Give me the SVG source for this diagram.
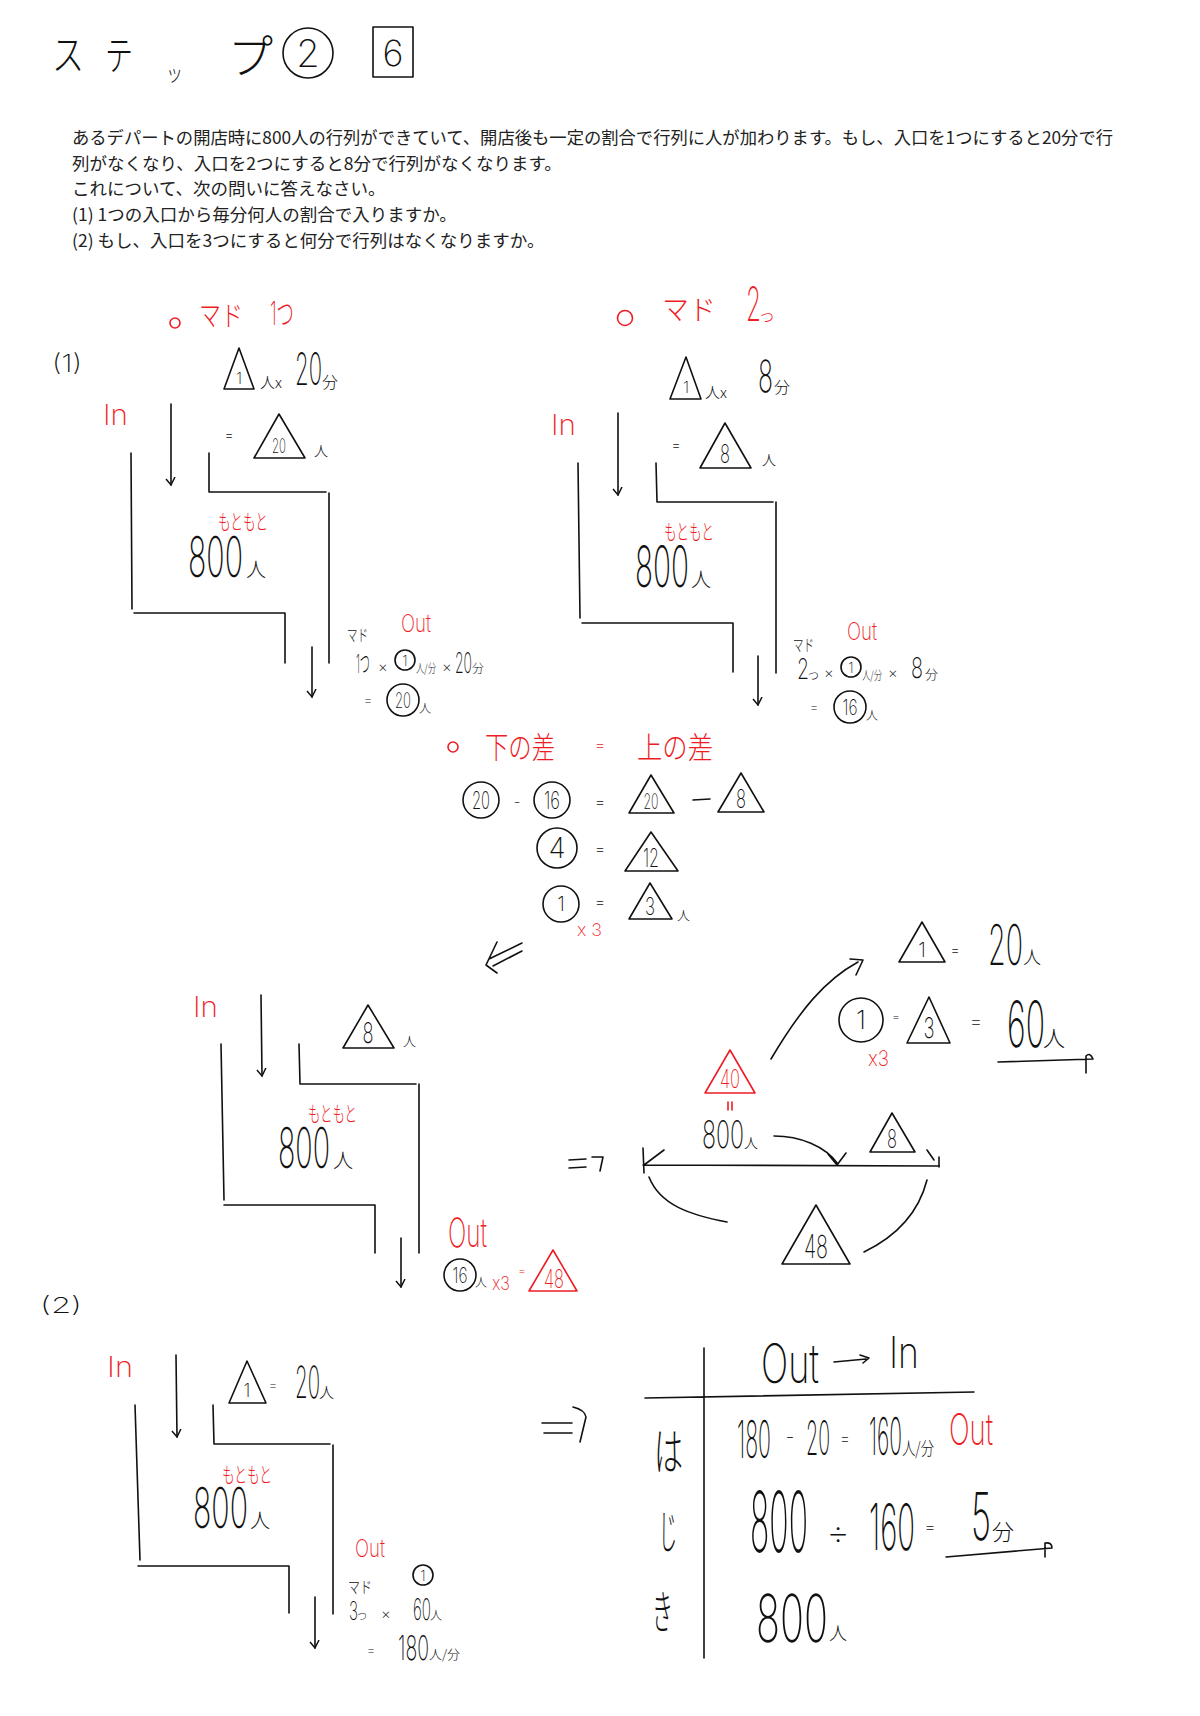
<svg xmlns="http://www.w3.org/2000/svg" width="1200" height="1716" viewBox="0 0 1200 1716">
<style>
.h{font-family:Inter,"Noto Sans CJK JP",sans-serif;font-weight:200;fill:#111}
.j{font-family:"Noto Sans CJK JP",sans-serif;font-weight:300;fill:#111}
.p{font-family:"Noto Sans CJK JP",sans-serif;font-weight:400;fill:#222;font-size:17.5px}
.r{fill:#ee1c24}
.c{text-anchor:middle}
.ln{fill:none;stroke:#111;stroke-width:1.6;stroke-linecap:round;stroke-linejoin:round}
.lr{fill:none;stroke:#ee1c24;stroke-width:1.6;stroke-linecap:round;stroke-linejoin:round}
</style>
<defs>
<marker id="ah" markerUnits="userSpaceOnUse" markerWidth="14" markerHeight="14" viewBox="-8 -7 14 14" refX="0" refY="0" orient="auto">
<path d="M-8,-4 L0,0 L-6,5" fill="none" stroke="#111" stroke-width="1.5"/>
</marker>
</defs>
<rect width="1200" height="1716" fill="#fff"/>

<g id="title">
<text class="j" x="52" y="70" font-size="42" textLength="32" lengthAdjust="spacingAndGlyphs">ス</text>
<text class="j" x="105" y="70" font-size="40" textLength="28" lengthAdjust="spacingAndGlyphs">テ</text>
<text class="j" x="166" y="81" font-size="22" textLength="17" lengthAdjust="spacingAndGlyphs">ッ</text>
<text class="j" x="228" y="73" font-size="46" textLength="45" lengthAdjust="spacingAndGlyphs">プ</text>
<circle class="ln" cx="308" cy="53" r="25"/>
<text class="h c" x="308" y="67" font-size="38">2</text>
<rect class="ln" x="373" y="27" width="40" height="50" stroke-linecap="butt"/>
<text class="h c" x="393" y="66" font-size="36">6</text>
</g>

<g id="problem">
<text class="p" x="72" y="144" textLength="1041" lengthAdjust="spacingAndGlyphs">あるデパートの開店時に800人の行列ができていて、開店後も一定の割合で行列に人が加わります。もし、入口を1つにすると20分で行</text>
<text class="p" x="72" y="170">列がなくなり、入口を2つにすると8分で行列がなくなります。</text>
<text class="p" x="72" y="195">これについて、次の問いに答えなさい。</text>
<text class="p" x="72" y="221">(1) 1つの入口から毎分何人の割合で入りますか。</text>
<text class="p" x="72" y="247">(2) もし、入口を3つにすると何分で行列はなくなりますか。</text>
</g>

<g id="part1-label">
<text class="h" x="52" y="372" font-size="24" textLength="30" lengthAdjust="spacingAndGlyphs">(1)</text>
</g>

<g id="mado1">
<circle class="lr" cx="175" cy="323" r="5"/>
<text class="j r" x="199" y="326" font-size="28" textLength="44" lengthAdjust="spacingAndGlyphs">マド</text>
<text class="h r" x="270" y="325" font-size="32" textLength="24" lengthAdjust="spacingAndGlyphs">1つ</text>
<polygon class="ln" points="239,348 224,389 254,389"/>
<text class="h c" x="239" y="384" font-size="16">1</text>
<text class="j" x="260" y="388" font-size="15">人x</text>
<text class="h" x="295" y="385" font-size="45" textLength="27" lengthAdjust="spacingAndGlyphs">20</text>
<text class="j" x="322" y="388" font-size="16">分</text>
<text class="h c" x="229" y="440" font-size="15">=</text>
<polygon class="ln" points="279,414 254,458 305,458"/>
<text class="h c" x="279" y="453" font-size="20" textLength="14" lengthAdjust="spacingAndGlyphs">20</text>
<text class="j" x="314" y="456" font-size="14">人</text>
<text class="h r" x="103" y="425" font-size="29" textLength="25" lengthAdjust="spacingAndGlyphs">In</text>
<path class="ln" d="M131,453 L132,609 M134,613 L285,613 L285,663 M209,453 L209,492 L326,492 M329,493 L329,663"/>
<text class="j r" x="218" y="529" font-size="21" textLength="50" lengthAdjust="spacingAndGlyphs">もともと</text>
<text class="h" x="188" y="577" font-size="56" textLength="55" lengthAdjust="spacingAndGlyphs">800</text>
<text class="j" x="246" y="577" font-size="20">人</text>
<text class="j" x="347" y="641" font-size="16" textLength="21" lengthAdjust="spacingAndGlyphs">マド</text>
<text class="h r" x="401" y="632" font-size="25" textLength="30" lengthAdjust="spacingAndGlyphs">Out</text>
<text class="h" x="356" y="673" font-size="26" textLength="14" lengthAdjust="spacingAndGlyphs">1つ</text>
<text class="h" x="378" y="672" font-size="15">×</text>
<circle class="ln" cx="405" cy="660" r="10"/>
<text class="h c" x="405" y="666" font-size="14">1</text>
<text class="j" x="416" y="673" font-size="12" textLength="20" lengthAdjust="spacingAndGlyphs">人/分</text>
<text class="h" x="442" y="672" font-size="15">×</text>
<text class="h" x="455" y="673" font-size="28" textLength="17" lengthAdjust="spacingAndGlyphs">20</text>
<text class="j" x="472" y="673" font-size="12">分</text>
<text class="h c" x="368" y="705" font-size="14">=</text>
<circle class="ln" cx="403" cy="700" r="16"/>
<text class="h c" x="403" y="708" font-size="21" textLength="16" lengthAdjust="spacingAndGlyphs">20</text>
<text class="j" x="419" y="713" font-size="12">人</text>
</g>

<g id="mado2">
<circle class="lr" cx="625" cy="318" r="7.5"/>
<text class="j r" x="662" y="320" font-size="28" textLength="54" lengthAdjust="spacingAndGlyphs">マド</text>
<text class="h r" x="746" y="321" font-size="48" textLength="15" lengthAdjust="spacingAndGlyphs">2</text>
<text class="j r" x="760" y="322" font-size="14">つ</text>
<polygon class="ln" points="686,357 670,399 701,399"/>
<text class="h c" x="686" y="393" font-size="16">1</text>
<text class="j" x="705" y="398" font-size="15">人x</text>
<text class="h" x="758" y="392" font-size="44" textLength="15" lengthAdjust="spacingAndGlyphs">8</text>
<text class="j" x="774" y="393" font-size="16">分</text>
<text class="h r" x="551" y="435" font-size="29" textLength="25" lengthAdjust="spacingAndGlyphs">In</text>
<text class="h c" x="676" y="450" font-size="15">=</text>
<polygon class="ln" points="725,423 700,468 751,468"/>
<text class="h c" x="725" y="463" font-size="26" textLength="10" lengthAdjust="spacingAndGlyphs">8</text>
<text class="j" x="762" y="465" font-size="14">人</text>
<path class="ln" d="M578,463 L580,618 M582,623 L733,623 L733,672 M656,463 L657,502 L773,502 M776,502 L776,673"/>
<text class="j r" x="664" y="539" font-size="21" textLength="50" lengthAdjust="spacingAndGlyphs">もともと</text>
<text class="h" x="635" y="587" font-size="57" textLength="54" lengthAdjust="spacingAndGlyphs">800</text>
<text class="j" x="691" y="587" font-size="20">人</text>
<text class="j" x="793" y="651" font-size="16" textLength="21" lengthAdjust="spacingAndGlyphs">マド</text>
<text class="h r" x="847" y="640" font-size="24" textLength="30" lengthAdjust="spacingAndGlyphs">Out</text>
<text class="h" x="797" y="679" font-size="28" textLength="12" lengthAdjust="spacingAndGlyphs">2</text>
<text class="j" x="808" y="680" font-size="11">つ</text>
<text class="h" x="824" y="678" font-size="15">×</text>
<circle class="ln" cx="851" cy="667" r="10"/>
<text class="h c" x="851" y="673" font-size="14">1</text>
<text class="j" x="862" y="680" font-size="12" textLength="20" lengthAdjust="spacingAndGlyphs">人/分</text>
<text class="h" x="888" y="678" font-size="15">×</text>
<text class="h" x="911" y="678" font-size="28" textLength="12" lengthAdjust="spacingAndGlyphs">8</text>
<text class="j" x="925" y="679" font-size="13">分</text>
<text class="h c" x="814" y="712" font-size="14">=</text>
<circle class="ln" cx="850" cy="707" r="16"/>
<text class="h c" x="850" y="715" font-size="21" textLength="15" lengthAdjust="spacingAndGlyphs">16</text>
<text class="j" x="866" y="720" font-size="12">人</text>
</g>

<g id="diff">
<circle class="lr" cx="453" cy="747" r="5"/>
<text class="j r" x="485" y="758" font-size="30" textLength="70" lengthAdjust="spacingAndGlyphs">下の差</text>
<text class="h r c" x="600" y="751" font-size="17">=</text>
<text class="j r" x="637" y="758" font-size="30" textLength="76" lengthAdjust="spacingAndGlyphs">上の差</text>
<circle class="ln" cx="481" cy="800" r="18"/>
<text class="h c" x="481" y="809" font-size="24" textLength="18" lengthAdjust="spacingAndGlyphs">20</text>
<text class="h c" x="517" y="807" font-size="16">-</text>
<circle class="ln" cx="552" cy="800" r="18"/>
<text class="h c" x="552" y="809" font-size="24" textLength="16" lengthAdjust="spacingAndGlyphs">16</text>
<text class="h c" x="600" y="808" font-size="17">=</text>
<polygon class="ln" points="651,775 629,813 674,813"/>
<text class="h c" x="651" y="809" font-size="21" textLength="15" lengthAdjust="spacingAndGlyphs">20</text>
<path class="ln" d="M693,800 L710,799"/>
<polygon class="ln" points="741,773 718,812 764,812"/>
<text class="h c" x="741" y="808" font-size="26" textLength="10" lengthAdjust="spacingAndGlyphs">8</text>
<circle class="ln" cx="557" cy="848" r="20"/>
<text class="h c" x="557" y="858" font-size="28">4</text>
<text class="h c" x="600" y="855" font-size="17">=</text>
<polygon class="ln" points="651,832 625,871 678,871"/>
<text class="h c" x="651" y="867" font-size="26" textLength="16" lengthAdjust="spacingAndGlyphs">12</text>
<circle class="ln" cx="561" cy="904" r="18"/>
<text class="h c" x="561" y="911" font-size="20">1</text>
<text class="h c" x="600" y="908" font-size="17">=</text>
<polygon class="ln" points="650,883 629,919 672,919"/>
<text class="h c" x="650" y="915" font-size="24" textLength="10" lengthAdjust="spacingAndGlyphs">3</text>
<text class="j" x="677" y="920" font-size="13">人</text>
<text class="h r" x="577" y="936" font-size="17" textLength="25" lengthAdjust="spacingAndGlyphs">x 3</text>
</g>

<g id="combined">
<text class="h r" x="193" y="1017" font-size="29" textLength="25" lengthAdjust="spacingAndGlyphs">In</text>
<polygon class="ln" points="368,1005 343,1048 394,1048"/>
<text class="h c" x="368" y="1043" font-size="28" textLength="11" lengthAdjust="spacingAndGlyphs">8</text>
<text class="j" x="403" y="1046" font-size="13">人</text>
<path class="ln" d="M221,1044 L224,1200 M224,1205 L375,1205 L375,1253 M299,1044 L300,1084 L416,1084 M419,1084 L419,1253"/>
<text class="j r" x="308" y="1121" font-size="21" textLength="49" lengthAdjust="spacingAndGlyphs">もともと</text>
<text class="h" x="278" y="1168" font-size="56" textLength="52" lengthAdjust="spacingAndGlyphs">800</text>
<text class="j" x="333" y="1168" font-size="20">人</text>
<text class="h r" x="448" y="1247" font-size="40" textLength="39" lengthAdjust="spacingAndGlyphs">Out</text>
<circle class="ln" cx="460" cy="1275" r="16"/>
<text class="h c" x="460" y="1283" font-size="21" textLength="15" lengthAdjust="spacingAndGlyphs">16</text>
<text class="j" x="475" y="1287" font-size="12">人</text>
<text class="h r" x="492" y="1290" font-size="19" textLength="18" lengthAdjust="spacingAndGlyphs">x3</text>
<text class="h r c" x="522" y="1275" font-size="13">=</text>
<polygon class="lr" points="553,1250 529,1291 577,1291"/>
<text class="h r c" x="554" y="1288" font-size="26" textLength="20" lengthAdjust="spacingAndGlyphs">48</text>

<polygon class="ln" points="922,922 899,962 945,962"/>
<text class="h c" x="922" y="957" font-size="20">1</text>
<text class="h c" x="955" y="955" font-size="15">=</text>
<text class="h" x="988" y="965" font-size="56" textLength="35" lengthAdjust="spacingAndGlyphs">20</text>
<text class="j" x="1023" y="964" font-size="18">人</text>
<circle class="ln" cx="861" cy="1020" r="22"/>
<text class="h c" x="861" y="1029" font-size="26">1</text>
<text class="h c" x="896" y="1021" font-size="13">=</text>
<polygon class="ln" points="929,997 907,1043 950,1043"/>
<text class="h c" x="929" y="1038" font-size="28" textLength="11" lengthAdjust="spacingAndGlyphs">3</text>
<text class="h c" x="976" y="1028" font-size="20">=</text>
<text class="h" x="1007" y="1047" font-size="64" textLength="38" lengthAdjust="spacingAndGlyphs">60</text>
<text class="j" x="1043" y="1046" font-size="22">人</text>
<text class="h r" x="868" y="1066" font-size="21" textLength="21" lengthAdjust="spacingAndGlyphs">x3</text>
<path class="ln" d="M998,1062 L1093,1059 M1086,1073 L1086,1056 Q1090,1052 1093,1059"/>
<polygon class="lr" points="730,1050 705,1093 755,1093"/>
<text class="h r c" x="730" y="1088" font-size="26" textLength="20" lengthAdjust="spacingAndGlyphs">40</text>
<path class="lr" d="M728,1102 L728,1110 M732,1102 L732,1110"/>
<text class="h" x="702" y="1148" font-size="38" textLength="42" lengthAdjust="spacingAndGlyphs">800</text>
<text class="j" x="744" y="1148" font-size="14">人</text>
<polygon class="ln" points="892,1113 870,1152 915,1152"/>
<text class="h c" x="892" y="1148" font-size="26" textLength="10" lengthAdjust="spacingAndGlyphs">8</text>
<polygon class="ln" points="816,1205 782,1264 850,1264"/>
<text class="h c" x="816" y="1258" font-size="32" textLength="24" lengthAdjust="spacingAndGlyphs">48</text>
</g>

<g id="part2">
<text class="h" x="40" y="1313" font-size="22" textLength="42" lengthAdjust="spacingAndGlyphs">(2)</text>
<text class="h r" x="107" y="1377" font-size="29" textLength="26" lengthAdjust="spacingAndGlyphs">In</text>
<polygon class="ln" points="247,1361 229,1403 266,1403"/>
<text class="h c" x="247" y="1397" font-size="18">1</text>
<text class="h c" x="273" y="1390" font-size="14">=</text>
<text class="h" x="295" y="1398" font-size="44" textLength="25" lengthAdjust="spacingAndGlyphs">20</text>
<text class="j" x="319" y="1398" font-size="15">人</text>
<path class="ln" d="M135,1405 L140,1560 M138,1566 L289,1566 L289,1613 M213,1405 L214,1444 L330,1444 M333,1445 L333,1614"/>
<text class="j r" x="222" y="1482" font-size="21" textLength="50" lengthAdjust="spacingAndGlyphs">もともと</text>
<text class="h" x="193" y="1528" font-size="56" textLength="55" lengthAdjust="spacingAndGlyphs">800</text>
<text class="j" x="250" y="1528" font-size="20">人</text>
<text class="h r" x="355" y="1557" font-size="25" textLength="30" lengthAdjust="spacingAndGlyphs">Out</text>
<circle class="ln" cx="423" cy="1575" r="10"/>
<text class="h c" x="423" y="1581" font-size="14">1</text>
<text class="j" x="348" y="1593" font-size="16" textLength="24" lengthAdjust="spacingAndGlyphs">マド</text>
<text class="h" x="349" y="1620" font-size="26" textLength="9" lengthAdjust="spacingAndGlyphs">3</text>
<text class="j" x="357" y="1620" font-size="10">つ</text>
<text class="h" x="381" y="1619" font-size="15">×</text>
<text class="h" x="413" y="1620" font-size="30" textLength="18" lengthAdjust="spacingAndGlyphs">60</text>
<text class="j" x="430" y="1620" font-size="12">人</text>
<text class="h c" x="371" y="1655" font-size="14">=</text>
<text class="h" x="398" y="1660" font-size="34" textLength="31" lengthAdjust="spacingAndGlyphs">180</text>
<text class="j" x="429" y="1659" font-size="13" textLength="31" lengthAdjust="spacingAndGlyphs">人/分</text>
</g>

<g id="table">
<path class="ln" d="M704,1348 L704,1658 M645,1398 L974,1392"/>
<text class="h" x="761" y="1383" font-size="54" textLength="58" lengthAdjust="spacingAndGlyphs">Out</text>
<path class="ln" d="M834,1362 L866,1359 M860,1355 L869,1358 L863,1363"/>
<text class="h" x="889" y="1368" font-size="44" textLength="30" lengthAdjust="spacingAndGlyphs">In</text>
<text class="j" x="654" y="1470" font-size="50" textLength="29" lengthAdjust="spacingAndGlyphs">は</text>
<text class="j" x="659" y="1548" font-size="46" textLength="18" lengthAdjust="spacingAndGlyphs">じ</text>
<text class="j" x="652" y="1628" font-size="46" textLength="21" lengthAdjust="spacingAndGlyphs">き</text>
<text class="h" x="737" y="1458" font-size="52" textLength="34" lengthAdjust="spacingAndGlyphs">180</text>
<text class="h c" x="790" y="1444" font-size="20">-</text>
<text class="h" x="806" y="1455" font-size="48" textLength="24" lengthAdjust="spacingAndGlyphs">20</text>
<text class="h c" x="845" y="1444" font-size="16">=</text>
<text class="h" x="869" y="1455" font-size="52" textLength="33" lengthAdjust="spacingAndGlyphs">160</text>
<text class="j" x="902" y="1455" font-size="18" textLength="32" lengthAdjust="spacingAndGlyphs">人/分</text>
<text class="h r" x="949" y="1445" font-size="44" textLength="44" lengthAdjust="spacingAndGlyphs">Out</text>
<text class="h" x="750" y="1552" font-size="84" textLength="58" lengthAdjust="spacingAndGlyphs">800</text>
<text class="h c" x="838" y="1545" font-size="36">÷</text>
<text class="h" x="869" y="1550" font-size="64" textLength="46" lengthAdjust="spacingAndGlyphs">160</text>
<text class="h c" x="930" y="1533" font-size="18">=</text>
<text class="h" x="971" y="1540" font-size="66" textLength="20" lengthAdjust="spacingAndGlyphs">5</text>
<text class="j" x="992" y="1540" font-size="22">分</text>
<path class="ln" d="M946,1557 L1052,1548 M1045,1557 L1045,1543 Q1052,1542 1052,1548"/>
<text class="h" x="756" y="1642" font-size="66" textLength="72" lengthAdjust="spacingAndGlyphs">800</text>
<text class="j" x="829" y="1640" font-size="18">人</text>
</g>

<g id="connectors">
<path class="ln" d="M171,404 L171,485" marker-end="url(#ah)"/>
<path class="ln" d="M312,647 L312,697" marker-end="url(#ah)"/>
<path class="ln" d="M618,413 L618,495" marker-end="url(#ah)"/>
<path class="ln" d="M758,656 L758,705" marker-end="url(#ah)"/>
<path class="ln" d="M522,943 L489,959 M522,951 L493,966 M497,942 L486,965 L497,973"/>
<path class="ln" d="M261,995 L262,1076" marker-end="url(#ah)"/>
<path class="ln" d="M401,1238 L401,1287" marker-end="url(#ah)"/>
<path class="ln" d="M771,1059 C800,1010 825,980 858,962 M850,959 L863,960 L856,975"/>
<path class="ln" d="M774,1136 C800,1136 825,1146 838,1164 M828,1154 L837,1165 L846,1153"/>
<path class="ln" d="M927,1150 L934,1160 M939,1157 L939,1167"/>
<path class="ln" d="M643,1165 L939,1166 M643,1148 L644,1173 M664,1150 L644,1165"/>
<path class="ln" d="M569,1160 L586,1159 M569,1168 L586,1167 M592,1157 L603,1157 L600,1171"/>
<path class="ln" d="M649,1177 C660,1205 690,1215 727,1222 M927,1180 C918,1215 895,1237 864,1252"/>
<path class="ln" d="M176,1355 L177,1437" marker-end="url(#ah)"/>
<path class="ln" d="M315,1597 L315,1648" marker-end="url(#ah)"/>
<path class="ln" d="M542,1423 L572,1423 M544,1433 L572,1433 M573,1407 Q585,1410 586,1417 L580,1442"/>
</g>
</svg>
